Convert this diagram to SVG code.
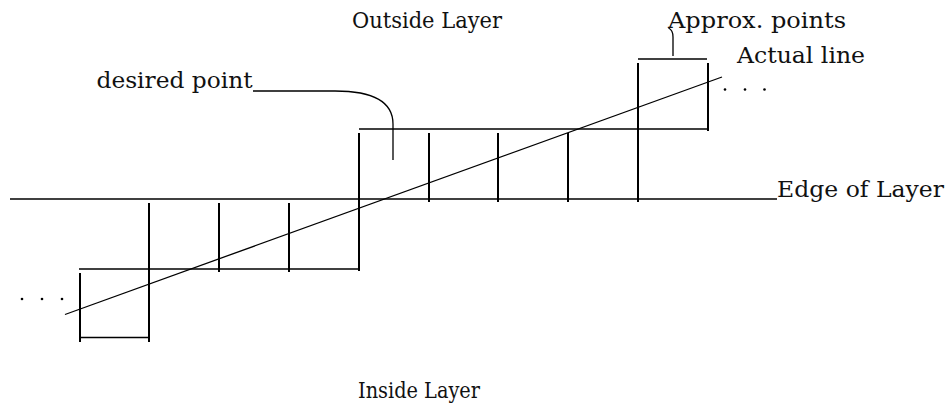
<svg xmlns="http://www.w3.org/2000/svg" width="948" height="413" viewBox="0 0 948 413">
<style>
  .thin { stroke: #000; stroke-width: 1.3; fill: none; }
  .bar { stroke: #000; stroke-width: 2; fill: none; }
  .lbl { font-family: "DejaVu Serif", "Liberation Serif", serif; font-size: 21.5px; fill: #111; }
  .dot { fill: #000; }
</style>
<rect width="948" height="413" fill="#fff"/>
<g id="edge-of-layer-line">
  <line class="thin" x1="10" y1="199" x2="777" y2="199"/>
</g>
<g id="steps">
  <line class="thin" x1="80" y1="337.5" x2="149" y2="337.5"/>
  <line class="thin" x1="79" y1="269" x2="359" y2="269"/>
  <line class="thin" x1="359" y1="129" x2="708" y2="129"/>
  <line class="thin" x1="638" y1="59" x2="707" y2="59"/>
  <line class="bar" x1="80" y1="273" x2="80" y2="342"/>
  <line class="bar" x1="149" y1="203" x2="149" y2="342"/>
  <line class="bar" x1="219" y1="203" x2="219" y2="272"/>
  <line class="bar" x1="289" y1="203" x2="289" y2="272"/>
  <line class="bar" x1="359" y1="133" x2="359" y2="271"/>
  <line class="bar" x1="429" y1="133" x2="429" y2="202"/>
  <line class="bar" x1="498" y1="133" x2="498" y2="202"/>
  <line class="bar" x1="568" y1="133" x2="568" y2="202"/>
  <line class="bar" x1="638" y1="63" x2="638" y2="202"/>
  <line class="bar" x1="708" y1="63" x2="708" y2="131"/>
</g>
<g id="actual-line">
  <line class="thin" x1="65" y1="314.5" x2="722" y2="77"/>
</g>
<g id="connectors">
  <path class="thin" d="M253,91 H335 C376,91 393,104 393,124 V160"/>
  <path class="thin" d="M673,56 V37 Q673,30 668.5,28"/>
</g>
<g id="dots">
  <circle class="dot" cx="22" cy="299" r="1.3"/>
  <circle class="dot" cx="42" cy="299" r="1.3"/>
  <circle class="dot" cx="62" cy="299" r="1.3"/>
  <circle class="dot" cx="725" cy="89.5" r="1.3"/>
  <circle class="dot" cx="745" cy="89.5" r="1.3"/>
  <circle class="dot" cx="764.5" cy="89.5" r="1.3"/>
</g>
<g id="labels">
  <text class="lbl" x="352" y="27.5" textLength="150" lengthAdjust="spacingAndGlyphs">Outside Layer</text>
  <text class="lbl" x="668" y="27.5" textLength="178" lengthAdjust="spacingAndGlyphs">Approx. points</text>
  <text class="lbl" x="737" y="63" textLength="128" lengthAdjust="spacingAndGlyphs">Actual line</text>
  <text class="lbl" x="96.5" y="88" textLength="156" lengthAdjust="spacingAndGlyphs">desired point</text>
  <text class="lbl" x="777" y="197" textLength="167" lengthAdjust="spacingAndGlyphs">Edge of Layer</text>
  <text class="lbl" x="358" y="398" textLength="122" lengthAdjust="spacingAndGlyphs">Inside Layer</text>
</g>
</svg>
